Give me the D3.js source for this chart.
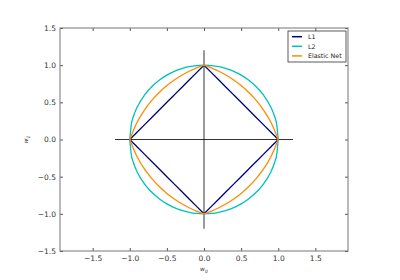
<!DOCTYPE html>
<html>
<head>
<meta charset="utf-8">
<script src="https://cdn.jsdelivr.net/npm/d3@7"></script>
<style>
  body { margin: 0; background: #fff; }
  text { font-family: "DejaVu Sans", sans-serif; }
</style>
</head>
<body>
<div class="chart"></div>
<script>
// one quadrant of each penalty contour (x >= 0, y >= 0)
var quadX = [0, 0.1, 0.2, 0.3, 0.4, 0.5, 0.6, 0.7, 0.8, 0.9, 0.95, 0.98, 1.0];
var l1Y = [1.0, 0.9, 0.8, 0.7, 0.6, 0.5, 0.4, 0.3, 0.2, 0.1, 0.05, 0.02, 0.0];
var l2Y = [1.0, 0.995, 0.98, 0.954, 0.917, 0.866, 0.8, 0.714, 0.6, 0.436, 0.312, 0.199, 0.0];
var elY = [1.0, 0.963, 0.918, 0.864, 0.8, 0.725, 0.636, 0.53, 0.4, 0.235, 0.124, 0.05, 0.0];

var seriesNames = ["L1", "L2", "Elastic Net"];
var seriesColors = ["navy", "#00bfbf", "darkorange"];
var seriesY = [l1Y, l2Y, elY];

// the four quadrants: sign of x, sign of y
var quadrants = [[1, 1], [1, -1], [-1, 1], [-1, -1]];

var xTicks = [-1.5, -1.0, -0.5, 0.0, 0.5, 1.0, 1.5];
var yTicks = [-1.5, -1.0, -0.5, 0.0, 0.5, 1.0, 1.5];
var crossExt = 1.2;

var svgWidth = 400;
var svgHeight = 280;
var margin = {top: 28, right: 52, bottom: 29, left: 60};
var width = svgWidth - margin.left - margin.right;
var height = svgHeight - margin.top - margin.bottom;

var svg = d3.select(".chart")
  .append("svg")
  .attr("width", svgWidth)
  .attr("height", svgHeight)
  .append("g")
  .attr("transform", "translate(" + margin.left + "," + margin.top + ")");

var x = d3.scaleLinear().domain([-1.94, 1.94]).range([0, width]);
var y = d3.scaleLinear().domain([-1.5, 1.5]).range([height, 0]);

function fmt(d) {
  return d3.format(".1f")(d).replace("-", "\u2212");
}

// axes with inward ticks on all four sides (classic matplotlib look)
var tickLen = 3;
svg.append("g")
  .attr("transform", "translate(0," + height + ")")
  .call(d3.axisBottom(x).tickValues(xTicks).tickFormat(fmt).tickSizeInner(-tickLen).tickSizeOuter(0).tickPadding(5));
svg.append("g")
  .call(d3.axisTop(x).tickValues(xTicks).tickFormat("").tickSizeInner(-tickLen).tickSizeOuter(0));
svg.append("g")
  .call(d3.axisLeft(y).tickValues(yTicks).tickFormat(fmt).tickSizeInner(-tickLen).tickSizeOuter(0).tickPadding(4));
svg.append("g")
  .attr("transform", "translate(" + width + ",0)")
  .call(d3.axisRight(y).tickValues(yTicks).tickFormat("").tickSizeInner(-tickLen).tickSizeOuter(0));

svg.selectAll(".domain").remove();
svg.selectAll(".tick line").attr("stroke", "#555");
svg.selectAll(".tick text").attr("fill", "#333").style("font-size", "7.5px");

// frame
svg.append("rect")
  .attr("width", width)
  .attr("height", height)
  .attr("fill", "none")
  .attr("stroke", "#777")
  .attr("stroke-width", 1);

// the black cross through the origin
svg.append("line")
  .attr("x1", x(-crossExt)).attr("x2", x(crossExt))
  .attr("y1", y(0)).attr("y2", y(0))
  .attr("stroke", "#000").attr("stroke-width", 0.8);
svg.append("line")
  .attr("x1", x(0)).attr("x2", x(0))
  .attr("y1", y(-crossExt)).attr("y2", y(crossExt))
  .attr("stroke", "#000").attr("stroke-width", 0.8);

// contours, one path per quadrant like the original
var line = d3.line()
  .x(function(d) { return x(d[0]); })
  .y(function(d) { return y(d[1]); })
  .curve(d3.curveMonotoneX);

seriesY.forEach(function(ys, i) {
  quadrants.forEach(function(q) {
    var pts = quadX.map(function(v, j) { return [q[0] * v, q[1] * ys[j]]; });
    pts.sort(function(a, b) { return a[0] - b[0]; });
    svg.append("path")
      .datum(pts)
      .attr("d", line)
      .attr("fill", "none")
      .attr("stroke", seriesColors[i])
      .attr("stroke-width", 1.3);
  });
});

// axis labels
svg.append("text")
  .attr("x", x(0))
  .attr("y", height + 20)
  .attr("text-anchor", "middle")
  .style("font-size", "6px")
  .style("font-style", "italic")
  .attr("fill", "#333")
  .html("w<tspan dy='1.5' font-size='4.5px'>0</tspan>");

svg.append("text")
  .attr("transform", "translate(" + (-32) + "," + y(0) + ") rotate(-90)")
  .attr("text-anchor", "middle")
  .style("font-size", "6px")
  .style("font-style", "italic")
  .attr("fill", "#333")
  .html("w<tspan dy='1.5' font-size='4.5px'>1</tspan>");

// legend
var legend = svg.append("g")
  .attr("transform", "translate(" + (width - 60) + ",3)");
legend.append("rect")
  .attr("width", 58)
  .attr("height", 31)
  .attr("fill", "#fff")
  .attr("stroke", "#333")
  .attr("stroke-width", 0.8);
seriesNames.forEach(function(name, i) {
  var row = legend.append("g").attr("transform", "translate(0," + (5.7 + i * 9.6) + ")");
  row.append("line")
    .attr("x1", 4).attr("x2", 14)
    .attr("stroke", seriesColors[i])
    .attr("stroke-width", 1.5);
  row.append("text")
    .attr("x", 20)
    .attr("dy", "0.35em")
    .style("font-size", "6.3px")
    .attr("fill", "#222")
    .text(name);
});
</script>
</body>
</html>
